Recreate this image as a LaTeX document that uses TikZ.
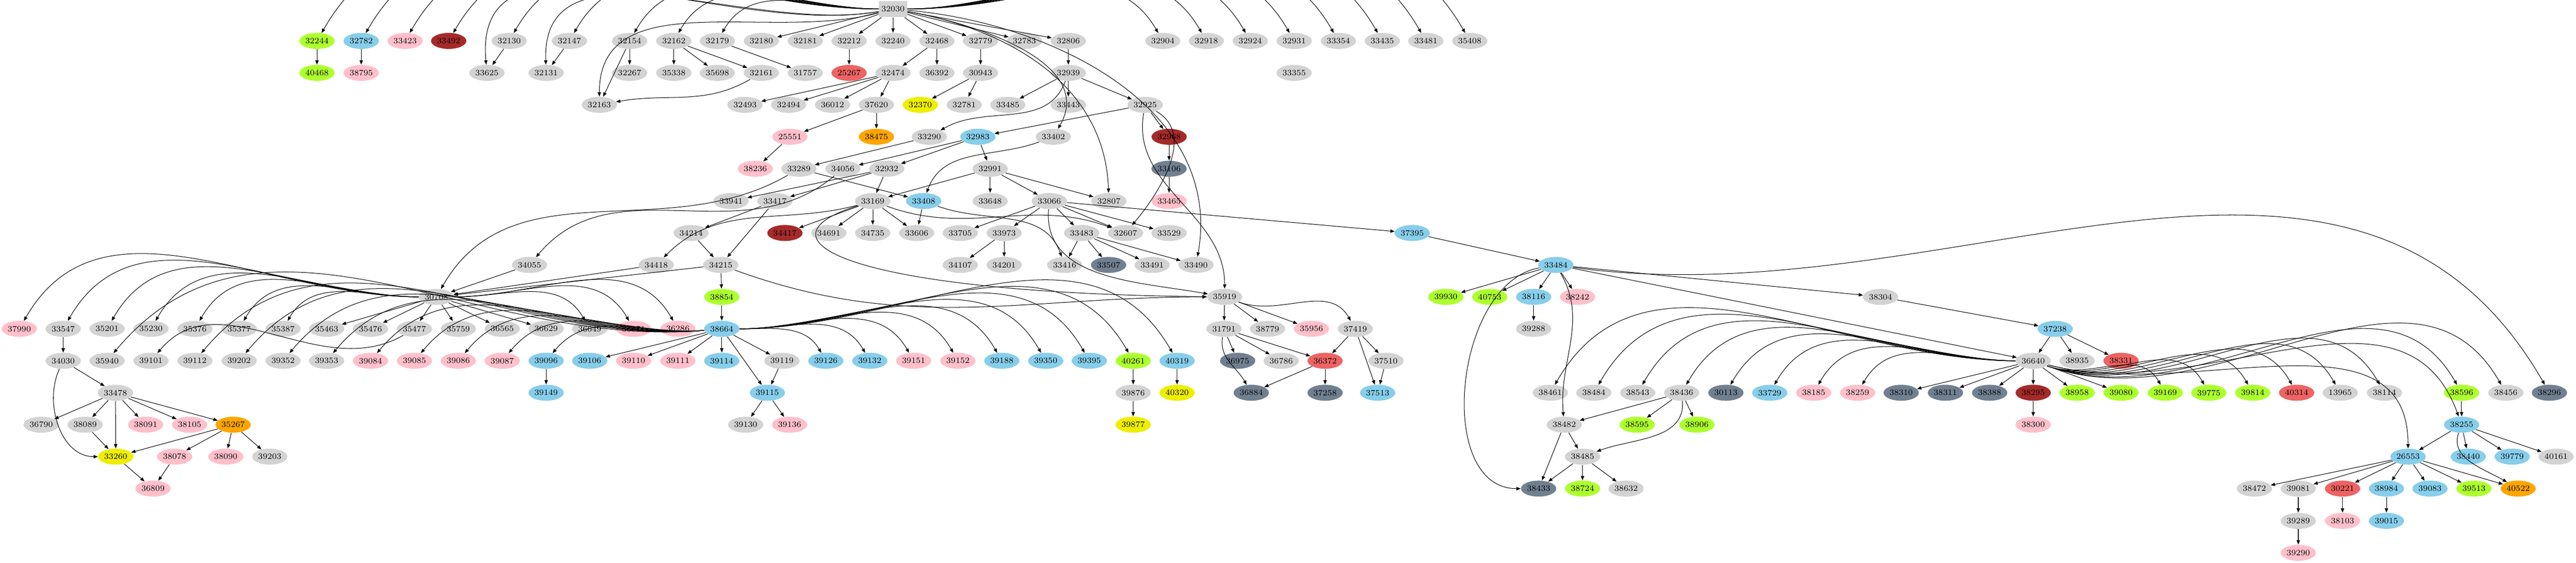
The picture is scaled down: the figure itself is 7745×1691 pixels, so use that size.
\documentclass[tikz,border=0pt]{standalone}
\usetikzlibrary{arrows.meta,shapes.geometric}
\definecolor{cgy}{HTML}{D3D3D3}
\definecolor{cgn}{HTML}{ADFF2F}
\definecolor{cbl}{HTML}{87CEEB}
\definecolor{cpk}{HTML}{FFC0CB}
\definecolor{cbr}{HTML}{A52A2A}
\definecolor{cye}{HTML}{EEEE00}
\definecolor{cor}{HTML}{FFA500}
\definecolor{csl}{HTML}{708090}
\definecolor{crd}{HTML}{EE6363}
\tikzset{
  nd/.style={ellipse,minimum width=1.06cm,minimum height=0.48cm,inner sep=0pt,font=\fontsize{7}{8}\selectfont},
  gy/.style={nd,fill=cgy}, gn/.style={nd,fill=cgn}, bl/.style={nd,fill=cbl},
  pk/.style={nd,fill=cpk}, br/.style={nd,fill=cbr}, ye/.style={nd,fill=cye},
  or/.style={nd,fill=cor}, sl/.style={nd,fill=csl}, rd/.style={nd,fill=crd},
  e/.style={-{Triangle[length=1.3mm,width=1mm]},line width=0.45pt}
}
\begin{document}
\begin{tikzpicture}[x=0.01cm,y=0.01cm]
\useasboundingbox (0,0) rectangle (7745,-1691);
% root
\node[rectangle,fill=cgy,minimum width=0.85cm,minimum height=0.49cm,inner sep=0pt,font=\fontsize{7}{8}\selectfont] (n32030) at (2685,-27) {32030};
% rows
\foreach \id/\x/\s in {32244/953/gn,32782/1086/bl,33423/1218/pk,33492/1349/br,32130/1531/gy,32147/1712/gy,32154/1893/gy,32162/2026/gy,32179/2157/gy,32180/2289/gy,32181/2421/gy,32212/2553/gy,32240/2685/gy,32468/2817/gy,32779/2948/gy,32783/3080/gy,32806/3212/gy,32904/3496/gy,32918/3627/gy,32924/3759/gy,32931/3891/gy,33354/4024/gy,33435/4156/gy,33481/4287/gy,35408/4419/gy}
  \node[style=\s] (n\id) at (\x,-123) {\id};
\foreach \id/\x/\s in {40468/953/gn,38795/1086/pk,33625/1464/gy,32131/1642/gy,32267/1893/gy,35338/2026/gy,35698/2157/gy,32161/2289/gy,31757/2421/gy,25267/2553/rd,32474/2685/gy,36392/2817/gy,30943/2948/gy,32939/3212/gy,33355/3891/gy}
  \node[style=\s] (n\id) at (\x,-219) {\id};
\foreach \id/\x/\s in {32163/1802/gy,32493/2240/gy,32494/2371/gy,36012/2503/gy,37620/2635/gy,32370/2767/ye,32781/2899/gy,33485/3030/gy,33443/3212/gy,32925/3443/gy}
  \node[style=\s] (n\id) at (\x,-315) {\id};
\foreach \id/\x/\s in {25551/2375/pk,38475/2635/or,33290/2794/gy,32983/2940/bl,33402/3167/gy,32968/3515/br}
  \node[style=\s] (n\id) at (\x,-411) {\id};
\foreach \id/\x/\s in {38236/2271/pk,33289/2402/gy,34056/2534/gy,32932/2666/gy,32991/2977/gy,33106/3515/sl}
  \node[style=\s] (n\id) at (\x,-507) {\id};
\foreach \id/\x/\s in {33941/2198/gy,33417/2330/gy,33169/2624/gy,33408/2777/bl,33648/2977/gy,33066/3155/gy,32807/3334/gy,33465/3515/pk}
  \node[style=\s] (n\id) at (\x,-604) {\id};
\foreach \id/\x/\s in {34214/2078/gy,34417/2360/br,34691/2492/gy,34735/2624/gy,33606/2756/gy,33705/2887/gy,33973/3019/gy,33483/3252/gy,32607/3384/gy,33529/3515/gy,37395/4246/bl}
  \node[style=\s] (n\id) at (\x,-700) {\id};
\foreach \id/\x/\s in {34055/1592/gy,34418/1973/gy,34215/2167/gy,34107/2887/gy,34201/3019/gy,33416/3201/gy,33507/3333/sl,33491/3464/gy,33490/3596/gy,33484/4678/bl}
  \node[style=\s] (n\id) at (\x,-796) {\id};
\foreach \id/\x/\s in {30708/1312/gy,38854/2170/gn,35919/3682/gy,39930/4347/gn,40753/4479/gn,38116/4611/bl,38242/4743/pk,38304/5654/gy}
  \node[style=\s] (n\id) at (\x,-892) {\id};
\foreach \id/\x/\s in {37990/58/pk,33547/190/gy,35201/322/gy,35230/454/gy,35376/586/gy,35377/719/gy,35387/851/gy,35463/982/gy,35476/1114/gy,35477/1246/gy,35759/1378/gy,36565/1510/gy,36629/1642/gy,36649/1773/gy,35071/1905/pk,36286/2038/pk,38664/2170/bl,31791/3680/gy,38779/3811/gy,35956/3943/pk,37419/4075/gy,39288/4611/gy,37238/6179/bl}
  \node[style=\s] (n\id) at (\x,-988) {\id};
\foreach \id/\x/\s in {34030/190/gy,35940/322/gy,39101/454/gy,39112/586/gy,39202/719/gy,39352/851/gy,39353/982/gy,39084/1114/pk,39085/1246/pk,39086/1378/pk,39087/1510/pk,39096/1642/bl,39106/1773/bl,39110/1905/pk,39111/2038/pk,39114/2170/bl,39119/2351/gy,39126/2483/bl,39132/2615/bl,39151/2747/pk,39152/2880/pk,39188/3012/bl,39350/3144/bl,39395/3275/bl,40261/3407/gn,40319/3539/bl,36975/3721/sl,36786/3852/gy,36372/3984/rd,37510/4167/gy,36640/6113/gy,38935/6245/gy,38331/6377/rd}
  \node[style=\s] (n\id) at (\x,-1084) {\id};
\foreach \id/\x/\s in {33478/347/gy,39149/1642/bl,39115/2307/bl,39876/3407/gy,40320/3539/ye,36884/3762/sl,37258/3984/sl,37513/4142/bl,38461/4661/gy,38484/4792/gy,38543/4924/gy,38436/5056/gy,30113/5189/sl,33729/5321/bl,38185/5453/pk,38259/5585/pk,38310/5716/sl,38311/5849/sl,38388/5982/sl,38295/6113/br,38958/6245/gn,39080/6377/gn,39169/6510/gn,39775/6641/gn,39814/6773/gn,40314/6905/rd,13965/7036/gy,38114/7169/gy,38596/7401/gn,38456/7534/gy,38296/7665/sl}
  \node[style=\s] (n\id) at (\x,-1180) {\id};
\foreach \id/\x/\s in {36790/124/gy,38089/256/gy,38091/438/pk,38105/570/pk,35267/701/or,39130/2242/gy,39136/2374/pk,39877/3407/ye,38482/4703/gy,38595/4922/gn,38906/5102/gn,38300/6113/pk,38255/7401/bl}
  \node[style=\s] (n\id) at (\x,-1276) {\id};
\foreach \id/\x/\s in {33260/348/ye,38078/525/pk,38090/679/pk,39203/811/gy,38485/4758/gy,26553/7240/bl,38440/7421/bl,39779/7553/bl,40161/7685/gy}
  \node[style=\s] (n\id) at (\x,-1372) {\id};
\foreach \id/\x/\s in {36809/460/pk,38433/4626/sl,38724/4758/gn,38632/4889/gy,38472/6778/gy,39081/6910/gy,30221/7043/rd,38984/7175/bl,39083/7306/bl,39513/7438/gn,40522/7571/or}
  \node[style=\s] (n\id) at (\x,-1468) {\id};
\foreach \id/\x/\s in {39289/6910/gy,38103/7043/pk,39015/7175/bl}
  \node[style=\s] (n\id) at (\x,-1565) {\id};
\node[pk] (n39290) at (6910,-1661) {39290};
% root fan
\foreach \c in {32244,32782,33423,33492,32130,32147,32154,32162,32179}
  \draw[e] (n32030) to[out=180,in=60] (n\c);
\foreach \c in {32180,32181,32212,32240,32468,32779,32783,32806}
  \draw[e] (n32030) -- (n\c);
\foreach \c in {32904,32918,32924,32931,33354,33435,33481,35408}
  \draw[e] (n32030) to[out=0,in=120] (n\c);
\draw[e] (n32030) to[out=190,in=95] (n33625);
\draw[e] (n32030) to[out=190,in=92] (n32131);
\draw[e] (n32030) to[out=195,in=90] (n32163);
\draw[e] (n32030) to[out=-10,in=60] (n33402);
\draw[e] (n32030) to[out=-10,in=92] (n32807);
\draw[e] (n32030) to[out=-5,in=80] (n33490);
% upper part
\foreach \a/\b in {32244/40468,32782/38795,32130/33625,32147/32131,32154/32267,32154/32163,32162/35338,32162/35698,32162/32161,32179/31757,32212/25267,32468/32474,32468/36392,32779/30943,32806/32939,32474/32493,32474/32494,32474/36012,32474/37620,30943/32370,30943/32781,32939/33485,32939/33443,32939/32925,37620/25551,37620/38475,25551/38236,32925/32983,32925/32968,32968/33106,33106/33465,33290/33289,32983/34056,32983/32932,32983/32991,33289/33408,32932/33941,32932/33417,32932/33169,32991/33169,32991/33648,32991/33066,32991/32807,33417/34214,33417/34215,34214/34215,33169/34417,33169/34691,33169/34735,33169/33606,33408/33606,33066/33705,33066/33973,33066/33483,33066/32607,33066/33529,33066/37395,33973/34107,33973/34201,33483/33416,33483/33507,33483/33491,33483/33490,37395/33484,34055/30708,34418/30708,34215/30708,34215/38854}
  \draw[e] (n\a) -- (n\b);
\draw[e] (n32161) to[out=-150,in=10] (n32163);
\draw[e] (n32939) to[out=-110,in=30] (n33290);
\draw[e] (n32925) to[out=-100,in=90] (n35919);
\draw[e] (n32925) to[out=-30,in=50] (n32607);
\draw[e] (n33402) to[out=200,in=70] (n33408);
\draw[e] (n33289) to[out=-150,in=60] (n30708);
\draw[e] (n34056) to[out=-140,in=50] (n34055);
\draw[e] (n33169) to[out=-20,in=160] (n32607);
\draw[e] (n33169) to[out=195,in=45] (n34418);
\draw[e] (n33169) .. controls (2250,-720) and (2550,-880) .. (n35919);
\draw[e] (n33408) to[out=-20,in=110] (n33416);
\draw[e] (n33066) to[out=-95,in=170] (n35919);
\draw[e] (n34215) to[out=-20,in=180] (n35919);
% lower left
\foreach \c in {37990,33547,35201,35230,35376,35377,35387}
  \draw[e] (n30708) to[out=180,in=60] (n\c);
\foreach \c in {35463,35476,35477,35759,36565,36629}
  \draw[e] (n30708) -- (n\c);
\foreach \c in {36649,35071,36286}
  \draw[e] (n30708) to[out=0,in=120] (n\c);
\foreach \c in {35940,39112,39202,39352,39353,39084,39085,39086,39087,39096}
  \draw[e] (n38664) to[out=185,in=50] (n\c);
\foreach \c in {39106,39110,39111,39114,39119,39115}
  \draw[e] (n38664) -- (n\c);
\foreach \c in {39126,39132,39151,39152,39188,39350,39395,40261,40319}
  \draw[e] (n38664) to[out=0,in=120] (n\c);
\draw[e] (n35477) to[out=-150,in=50] (n39101);
\foreach \a/\b in {38854/38664,33547/34030,34030/33478,33478/36790,33478/38089,33478/33260,33478/38091,33478/38105,33478/35267,38089/33260,35267/33260,35267/38078,35267/38090,35267/39203,33260/36809,38078/36809,39096/39149,39119/39115,39115/39130,39115/39136,40261/39876,39876/39877,40319/40320}
  \draw[e] (n\a) -- (n\b);
\draw[e] (n34030) to[out=-115,in=180] (n33260);
% lower middle
\foreach \a/\b in {35919/31791,35919/38779,35919/35956,31791/36975,31791/36786,31791/36372,36372/36884,36372/37258,37419/36372,37419/37510,37419/37513,37510/37513,33484/39930,33484/40753,33484/38116,33484/38242,33484/38304,33484/36640,38116/39288,38304/37238,37238/36640,37238/38935,37238/38331}
  \draw[e] (n\a) -- (n\b);
\draw[e] (n35919) to[out=-20,in=120] (n37419);
\draw[e] (n31791) to[out=-100,in=120] (n36884);
\draw[e] (n33484) to[out=190,in=180] (n38433);
\draw[e] (n33484) to[out=-60,in=95] (n38482);
\draw[e] (n33484) to[out=-8,in=120] (n38296);
% lower right
\foreach \c in {38461,38484,38543,38436,30113,33729,38185,38259}
  \draw[e] (n36640) to[out=180,in=60] (n\c);
\foreach \c in {38310,38311,38388,38295,38958,39080}
  \draw[e] (n36640) -- (n\c);
\foreach \c in {39169,39775,39814,40314,13965,38114,38596,38456}
  \draw[e] (n36640) to[out=-20,in=120] (n\c);
\draw[e] (n36640) to[out=-15,in=90] (n26553);
\draw[e] (n36640) to[out=-15,in=110] (n38255);
\foreach \a/\b in {38295/38300,38436/38482,38436/38595,38436/38906,38482/38485,38482/38433,38485/38433,38485/38724,38485/38632,38596/38255,38255/26553,38255/38440,38255/39779,38255/40161,26553/38472,26553/39081,26553/30221,26553/38984,26553/39083,26553/39513,26553/40522,39081/39289,39289/39290,30221/38103,38984/39015}
  \draw[e] (n\a) -- (n\b);
\draw[e] (n38436) to[out=-85,in=20] (n38485);
\draw[e] (n38255) to[out=-110,in=150] (n40522);
\end{tikzpicture}
\end{document}
